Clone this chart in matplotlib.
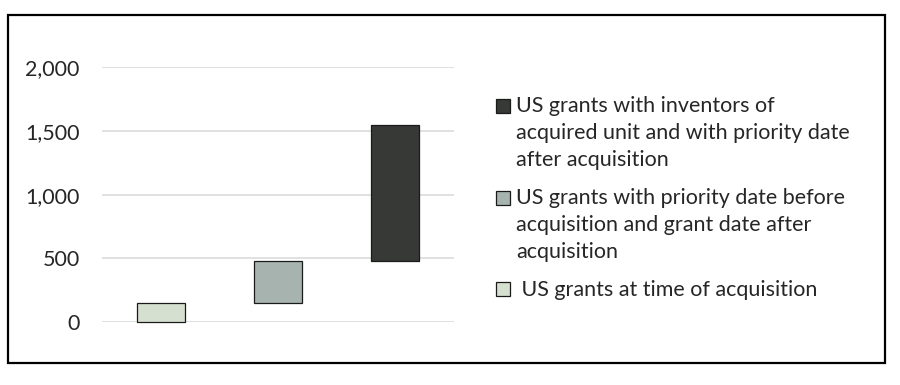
import matplotlib
matplotlib.use("Agg")
import matplotlib.pyplot as plt
from matplotlib.patches import Rectangle
from matplotlib.legend_handler import HandlerPatch
from matplotlib.ticker import FuncFormatter

categories = ["At acquisition", "Priority before, grant after", "Inventors, priority after"]
starts = [0, 150, 480]
ends = [150, 480, 1545]
labels = [
    " US grants at time of acquisition",
    "US grants with priority date before\nacquisition and grant date after\nacquisition",
    "US grants with inventors of\nacquired unit and with priority date\nafter acquisition",
]
colors = ["#D6E0D1", "#A7B3AF", "#363935"]
yticks = [0, 500, 1000, 1500, 2000]

plt.rcParams['font.family'] = ['Lato', 'DejaVu Sans']

FS = 15.5
LS = 1.43
PITCH_PT = 27.5 * 72 / 100  # line pitch in points

fig = plt.figure(figsize=(9, 3.85), dpi=100)
ax = fig.add_axes([0.1133, 0.1636, 0.391, 0.6616])

x = list(range(len(categories)))
heights = [e - s for s, e in zip(starts, ends)]
bars = []
for i in x:
    b = ax.bar(i, heights[i], bottom=starts[i], width=0.41, color=colors[i],
               edgecolor="#1a1a1a", linewidth=0.9, label=labels[i], zorder=3, clip_on=False)
    bars.append(b)

ax.set_xlim(-0.5, 2.5)
ax.set_ylim(0, 2000)
ax.set_yticks(yticks)
ax.yaxis.set_major_formatter(FuncFormatter(lambda v, p: f"{int(v):,}"))
ax.set_xticks([])
ax.tick_params(axis='y', length=0, pad=16, labelsize=FS, labelcolor="#262626")
ax.grid(axis='y', color="#D9D9D9", linewidth=1.1, zorder=0)
for s in ax.spines.values():
    s.set_visible(False)


def make_handler(nlines):
    shift = (nlines - 1) / 2 * PITCH_PT

    def patch_func(legend, orig_handle, xdescent, ydescent, width, height, fontsize):
        return Rectangle((-xdescent, -ydescent + shift), width, height)

    return HandlerPatch(patch_func=patch_func)


order = [2, 1, 0]
handles = [bars[i].patches[0] for i in order]
leg_labels = [labels[i] for i in order]
hmap = {h: make_handler(labels[i].count("\n") + 1) for h, i in zip(handles, order)}
leg = fig.legend(handles, leg_labels, loc='upper left', bbox_to_anchor=(0.551, 0.751),
                 frameon=False, fontsize=FS, handlelength=0.64, handleheight=0.64,
                 handletextpad=0.31, labelspacing=0.86, borderpad=0, borderaxespad=0,
                 handler_map=hmap)
for t in leg.get_texts():
    t.set_color("#262626")
    t.set_linespacing(LS)

fig.patches.append(Rectangle((7.5 / 900, 1 - 363 / 385), 877.5 / 900, 348 / 385,
                             transform=fig.transFigure, fill=False,
                             edgecolor="black", linewidth=1.6))

fig.savefig("out.png", dpi=100, facecolor="white")
